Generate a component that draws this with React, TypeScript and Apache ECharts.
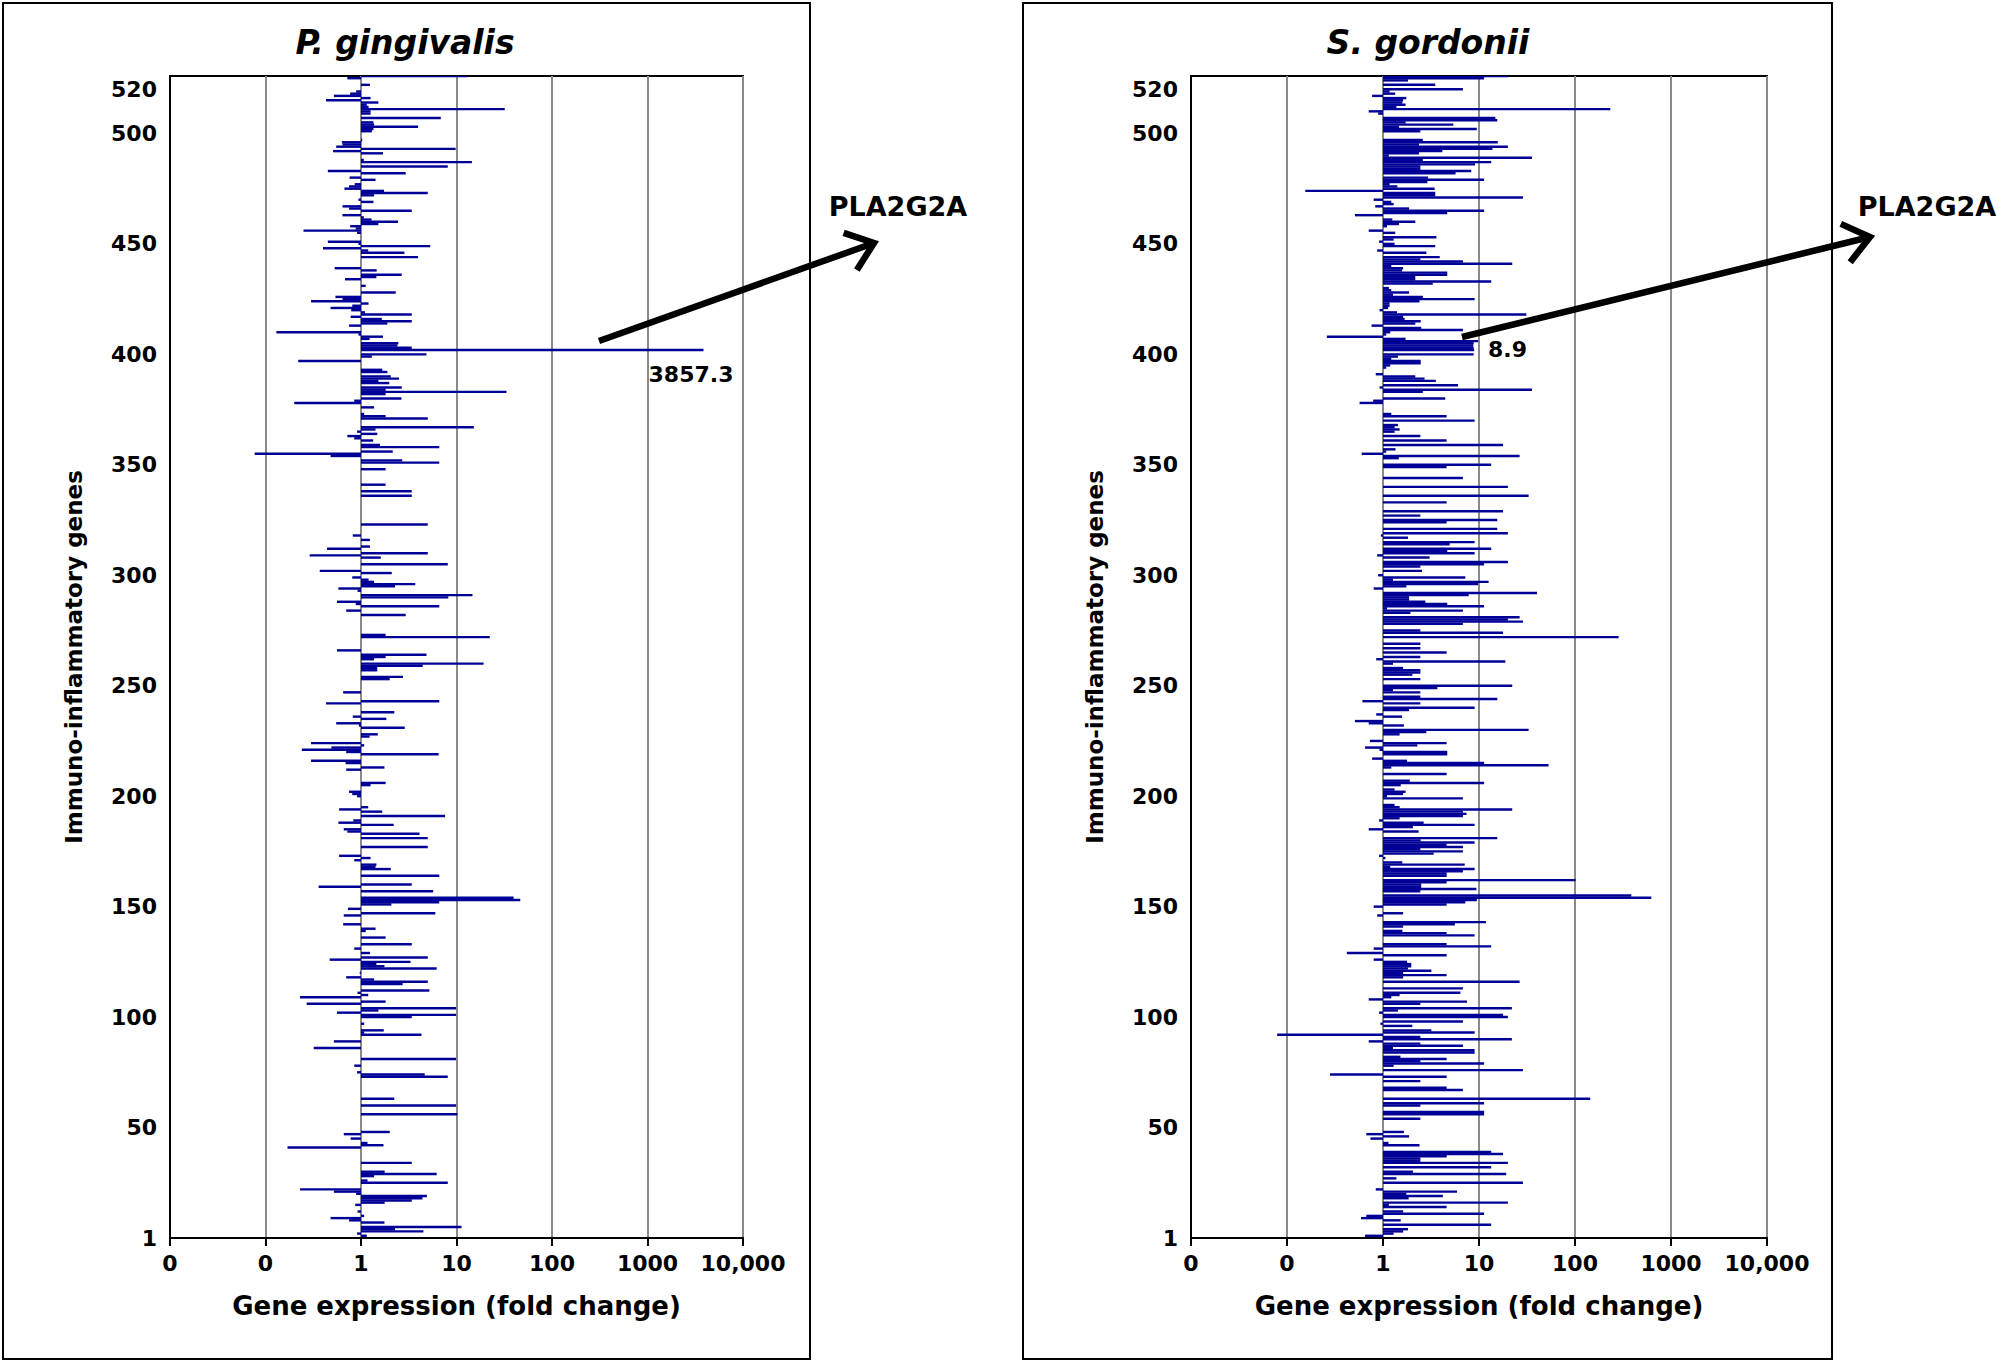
import React, { useEffect, useRef } from "react";
import * as echarts from "echarts";

// ---------- DATA (gene index, fold change); genes not listed show no bar (fold change ~1) ----------
const leftTitle = "P. gingivalis";
const rightTitle = "S. gordonii";
const yTickValues = [0, 50, 100, 150, 200, 250, 300, 350, 400, 450, 500, 520];
const yTickLabels = ["1", "50", "100", "150", "200", "250", "300", "350", "400", "450", "500", "520"];
const xTickValues = [0.01, 0.1, 1, 10, 100, 1000, 10000];
const xTickLabels = ["0", "0", "1", "10", "100", "1000", "10,000"];
const highlightGene = "PLA2G2A";
const highlightLeft = 3857.3;
const highlightRight = 8.9;

const leftBars: [number, number][] = [
  [526, 12.8], [525, 0.72], [522, 1.24], [519, 0.89], [518, 0.77], [517, 0.52], [516, 1.26], [515, 0.43], [514, 1.52], [513, 1.15],
  [512, 1.2], [511, 32], [510, 1.26], [509, 1.26], [507, 6.85], [505, 1.35], [504, 1.37], [503, 3.96], [502, 1.35], [501, 1.3],
  [497, 1.03], [496, 0.63], [495, 0.64], [494, 0.55], [493, 9.8], [492, 0.51], [491, 1.7], [488, 1.07], [487, 14.5], [485, 8.1],
  [483, 0.45], [482, 2.94], [480, 0.76], [479, 1.42], [477, 0.86], [476, 0.75], [475, 0.67], [474, 1.74], [473, 5.0], [472, 1.37],
  [470, 0.94], [469, 1.35], [467, 0.64], [466, 0.75], [465, 3.4], [463, 0.64], [462, 1.07], [461, 1.29], [460, 2.44], [459, 1.52],
  [458, 0.77], [457, 0.88], [456, 0.25], [455, 0.91], [451, 0.45], [450, 0.94], [449, 5.3], [448, 0.4], [447, 1.19], [446, 2.85],
  [444, 3.96], [439, 0.53], [438, 1.46], [436, 2.67], [435, 1.45], [434, 0.68], [431, 1.12], [428, 2.31], [426, 0.54], [425, 0.64],
  [424, 0.3], [423, 1.2], [422, 0.81], [421, 0.48], [420, 0.79], [419, 1.1], [418, 3.4], [417, 0.78], [416, 1.65], [415, 3.4],
  [414, 1.89], [413, 0.75], [410, 0.13], [409, 0.94], [408, 1.7], [407, 1.23], [405, 2.46], [404, 2.4], [403, 3.4], [402, 3857.3],
  [400, 4.85], [399, 1.3], [397, 0.22], [393, 1.67], [392, 1.89], [390, 2.05], [389, 2.5], [388, 1.52], [387, 1.98], [385, 2.67],
  [384, 1.81], [383, 33.4], [382, 1.81], [380, 2.65], [379, 0.85], [378, 0.2], [376, 1.37], [373, 1.08], [372, 1.81], [371, 5.0],
  [367, 15.2], [366, 1.42], [365, 0.91], [364, 1.48], [363, 0.72], [362, 0.85], [361, 1.34], [359, 1.58], [358, 6.6], [356, 2.15],
  [355, 0.077], [354, 0.48], [352, 2.7], [351, 6.6], [348, 1.81], [341, 1.81], [338, 3.4], [336, 3.4], [323, 5.0],
  [318, 0.82], [316, 1.24], [313, 1.24], [312, 0.44], [310, 5.0], [309, 0.29], [308, 1.61], [305, 8.1], [302, 0.37], [301, 2.1],
  [299, 0.81], [298, 1.2], [297, 1.37], [296, 3.7], [295, 2.27], [294, 0.58], [293, 0.92], [291, 14.7], [290, 8.2], [288, 0.56],
  [287, 0.88], [286, 6.6], [284, 0.7], [282, 2.94], [273, 1.81], [272, 22.3], [266, 0.56], [264, 4.85], [263, 1.81], [262, 1.37],
  [260, 19.2], [259, 4.43], [258, 1.48], [257, 1.48], [254, 2.75], [253, 2.0], [247, 0.65], [243, 6.6], [242, 0.43], [238, 2.23],
  [236, 0.82], [235, 1.84], [233, 0.55], [232, 0.95], [231, 2.87], [228, 1.5], [227, 1.23], [224, 0.3], [223, 1.08], [222, 0.49],
  [221, 0.24], [220, 0.7], [219, 6.5], [216, 0.3], [215, 0.69], [213, 1.76], [212, 0.7], [206, 1.81], [205, 1.26], [202, 0.75],
  [201, 0.81], [200, 0.91], [195, 1.19], [194, 0.59], [193, 1.67], [191, 7.6], [189, 0.83], [188, 0.58], [187, 2.2], [185, 0.66],
  [184, 0.72], [183, 4.1], [181, 5.0], [177, 5.0], [173, 0.59], [172, 1.26], [171, 0.85], [169, 1.45], [168, 1.42], [167, 2.05],
  [164, 6.6], [160, 3.4], [159, 0.36], [157, 5.7], [154, 39.6], [153, 46.5], [152, 6.6], [151, 2.08], [149, 0.73], [147, 6.0],
  [146, 0.66], [142, 0.65], [140, 1.42], [139, 1.12], [136, 1.81], [133, 3.4], [131, 0.85], [129, 1.24], [127, 5.0], [126, 0.47],
  [125, 3.3], [124, 1.45], [123, 1.76], [122, 6.2], [120, 0.97], [118, 0.7], [117, 1.37], [116, 5.0], [115, 2.73], [112, 5.2],
  [111, 0.92], [110, 1.19], [109, 0.23], [107, 1.81], [106, 0.27], [104, 9.9], [103, 1.52], [102, 0.56], [101, 9.9], [100, 3.4],
  [97, 1.08], [94, 1.73], [93, 1.08], [92, 4.3], [89, 0.52], [86, 0.32], [81, 9.9], [78, 0.85], [75, 0.91], [74, 4.65],
  [73, 8.1], [63, 2.23], [60, 9.9], [56, 10.2], [48, 2.0], [47, 0.66], [45, 0.78], [43, 1.17], [42, 1.72], [41, 0.17],
  [34, 3.4], [30, 1.77], [29, 6.2], [28, 1.37], [26, 1.17], [25, 8.1], [22, 0.23], [21, 0.52], [20, 0.89], [19, 4.9],
  [18, 4.4], [17, 3.4], [16, 1.77], [15, 0.87], [12, 0.92], [10, 1.08], [9, 0.48], [8, 0.75], [7, 1.76], [5, 11.3],
  [4, 2.27], [3, 4.5], [2, 0.91], [1, 1.15],
];

const rightBars: [number, number][] = [
  [526, 20], [525, 11.3], [524, 1.82], [522, 3.5], [520, 6.8], [519, 1.17], [518, 1.34], [517, 0.77], [516, 1.75], [515, 1.62],
  [514, 1.59], [513, 1.72], [512, 1.38], [511, 233], [510, 0.71], [509, 0.89], [507, 14.8], [506, 15.5], [505, 1.72], [504, 5.4],
  [503, 1.47], [502, 9.5], [501, 2.45], [497, 2.6], [496, 15.7], [495, 2.37], [494, 20], [493, 13.8], [492, 4.15], [491, 2.37],
  [490, 1.15], [489, 35.6], [488, 2.6], [487, 13.4], [486, 9.1], [485, 2.45], [484, 2.45], [483, 8.3], [482, 5.7], [480, 2.94],
  [479, 11.3], [478, 2.9], [477, 1.17], [476, 1.41], [475, 3.45], [474, 0.155], [473, 3.5], [472, 3.5], [471, 28.7], [470, 0.8],
  [469, 1.22], [468, 1.29], [467, 0.83], [466, 1.87], [465, 11.3], [464, 4.67], [463, 0.51], [461, 1.25], [460, 2.17], [459, 1.47],
  [458, 1.1], [456, 0.71], [455, 1.34], [453, 3.6], [452, 1.29], [451, 0.91], [450, 1.32], [449, 3.5], [447, 0.87], [446, 2.83],
  [444, 3.9], [443, 2.45], [442, 6.8], [441, 22.2], [440, 1.22], [439, 1.62], [438, 1.58], [437, 4.67], [436, 4.67], [435, 2.17],
  [434, 2.17], [433, 13.4], [432, 3.3], [430, 1.15], [429, 1.22], [428, 1.87], [427, 1.27], [426, 2.6], [425, 9.0], [424, 2.4],
  [423, 1.17], [422, 1.17], [421, 1.13], [420, 0.92], [419, 1.4], [418, 31.1], [417, 1.62], [416, 1.68], [415, 2.47], [414, 2.17],
  [413, 0.76], [412, 2.5], [411, 6.8], [410, 1.19], [409, 1.08], [408, 0.26], [407, 1.72], [406, 9.8], [405, 8.8], [404, 8.7],
  [403, 8.8], [402, 8.9], [400, 8.8], [399, 1.43], [398, 1.22], [397, 2.47], [396, 2.47], [395, 1.19], [394, 1.08], [391, 0.84],
  [390, 2.17], [389, 2.71], [388, 3.55], [386, 6.05], [385, 0.92], [384, 35.6], [383, 2.6], [380, 4.45], [379, 0.79], [378, 0.57],
  [373, 1.22], [372, 4.6], [370, 9.0], [368, 1.43], [367, 1.32], [366, 1.49], [365, 1.32], [363, 2.45], [361, 4.6], [359, 17.8],
  [357, 1.35], [356, 1.08], [355, 0.6], [354, 26.5], [353, 1.46], [350, 13.4], [349, 4.6], [344, 6.8], [340, 20], [336, 32.9],
  [333, 4.6], [329, 17.8], [327, 2.45], [325, 15.5], [324, 4.6], [321, 15.5], [319, 20], [318, 0.95], [317, 1.82], [315, 9.0],
  [314, 4.95], [312, 13.4], [311, 4.67], [310, 9.0], [309, 0.87], [308, 3.06], [306, 20], [305, 11.3], [304, 2.45], [302, 2.55],
  [300, 0.89], [299, 7.2], [298, 1.27], [297, 12.6], [296, 9.8], [295, 1.75], [294, 0.8], [292, 40.2], [291, 7.8], [290, 1.87],
  [289, 1.87], [288, 2.76], [287, 4.67], [286, 11.3], [285, 1.1], [284, 6.8], [283, 1.93], [281, 26.5], [280, 20], [279, 28.7],
  [278, 6.8], [275, 2.45], [274, 17.8], [272, 285], [269, 2.45], [267, 2.45], [265, 4.6], [263, 2.45], [262, 0.85], [261, 18.8],
  [260, 1.27], [258, 1.62], [257, 2.45], [256, 2.45], [255, 2.02], [253, 2.45], [250, 22.2], [249, 3.68], [248, 1.27], [247, 2.45],
  [245, 2.45], [244, 15.5], [243, 0.61], [242, 2.45], [240, 9.0], [239, 1.87], [237, 0.85], [236, 1.58], [234, 0.51], [233, 0.71],
  [232, 1.65], [230, 32.9], [229, 2.83], [228, 1.49], [225, 0.73], [224, 4.6], [223, 2.28], [222, 0.65], [221, 0.92], [220, 4.67],
  [219, 4.67], [217, 0.77], [216, 1.78], [215, 11.3], [214, 53], [213, 1.22], [210, 4.6], [207, 1.9], [206, 11.3], [205, 1.53],
  [203, 1.32], [202, 1.72], [201, 1.62], [200, 1.1], [199, 6.8], [196, 1.32], [195, 1.49], [194, 22.2], [193, 6.8], [192, 7.4],
  [191, 6.8], [190, 1.49], [189, 0.91], [188, 2.65], [187, 9.0], [186, 2.05], [185, 0.71], [184, 2.35], [181, 15.5], [180, 2.47],
  [179, 9.0], [178, 4.6], [177, 6.8], [176, 2.45], [175, 6.8], [174, 3.37], [173, 0.91], [172, 1.06], [170, 1.59], [169, 7.1],
  [168, 1.19], [167, 9.0], [166, 6.8], [165, 4.6], [164, 4.6], [162, 101.6], [161, 4.6], [160, 2.5], [159, 2.5], [158, 9.4],
  [157, 2.45], [155, 386], [154, 624], [153, 9.5], [152, 7.2], [151, 4.6], [150, 0.8], [147, 1.62], [146, 0.87], [143, 11.8],
  [142, 5.6], [141, 1.62], [139, 1.59], [138, 4.6], [137, 9.0], [133, 4.6], [132, 13.4], [131, 0.8], [129, 0.42], [128, 4.6],
  [126, 0.8], [125, 1.78], [124, 1.97], [123, 1.97], [122, 1.82], [121, 3.19], [120, 1.62], [119, 4.6], [118, 1.62], [116, 26.5],
  [113, 6.8], [111, 6.4], [110, 1.49], [109, 1.22], [108, 0.71], [107, 7.5], [106, 2.45], [104, 22], [103, 1.43], [102, 0.91],
  [101, 17.8], [100, 20], [98, 6.8], [97, 0.94], [96, 2.02], [94, 3.19], [93, 9.0], [92, 0.079], [91, 2.45], [90, 22],
  [89, 0.71], [88, 2.45], [87, 6.8], [86, 1.27], [85, 9.0], [84, 9.0], [82, 1.52], [81, 4.6], [80, 2.45], [79, 11.3],
  [78, 1.29], [76, 28.7], [74, 0.28], [73, 4.6], [71, 2.45], [68, 4.6], [67, 6.8], [63, 144], [61, 11.3], [60, 2.45],
  [57, 11.3], [56, 11.3], [54, 2.45], [48, 1.65], [47, 0.67], [46, 1.87], [45, 0.74], [43, 1.14], [42, 2.4], [39, 13.4],
  [38, 17.8], [37, 4.6], [36, 2.45], [35, 2.45], [34, 20], [32, 13.4], [30, 2.05], [29, 19.2], [27, 1.38], [25, 28.7],
  [22, 0.84], [21, 5.9], [20, 1.75], [19, 4.2], [18, 1.85], [16, 20], [15, 1.15], [14, 4.6], [12, 1.62], [11, 11.3],
  [10, 0.67], [9, 0.59], [8, 1.53], [6, 13.4], [4, 1.82], [3, 1.62], [2, 1.29], [1, 0.65],
];

// ---------- STYLE ----------
const W = 1997;
const H = 1363;
const BAR = "#000096";
const GRID = "#8a8a8a";
const FONT = "DejaVu Sans";

const xLabelFor = (v: number) => {
  const idx = xTickValues.findIndex((t) => Math.abs(Math.log10(t) - Math.log10(v)) < 1e-6);
  return idx >= 0 ? xTickLabels[idx] : "";
};
const yLabelFor = (v: number) => {
  const idx = yTickValues.indexOf(Math.round(v));
  return idx >= 0 ? yTickLabels[idx] : "";
};

const renderBar = (_params: any, api: any) => {
  const v = api.value(0);
  const g = api.value(1);
  const p0 = api.coord([1, g]);
  const p1 = api.coord([v, g]);
  const up = api.coord([1, g + 0.5]);
  const dn = api.coord([1, g - 0.5]);
  const h = Math.abs(dn[1] - up[1]) * 1.1;
  return {
    type: "rect",
    shape: { x: Math.min(p0[0], p1[0]), y: p0[1] - h / 2, width: Math.abs(p1[0] - p0[0]), height: h },
    style: { fill: BAR },
  };
};

const makeX = (gridIndex: number) => ({
  type: "log",
  gridIndex,
  logBase: 10,
  min: 0.01,
  max: 10000,
  splitNumber: 6,
  name: "Gene expression (fold change)",
  nameLocation: "middle",
  nameGap: 55,
  nameTextStyle: { fontFamily: FONT, fontWeight: "bold", fontSize: 26, color: "#000" },
  axisLine: { show: true, lineStyle: { color: "#000", width: 2 } },
  axisTick: { show: true, inside: false, length: 8, lineStyle: { color: "#000", width: 2 } },
  axisLabel: {
    show: true,
    margin: 14,
    fontFamily: FONT,
    fontWeight: "bold",
    fontSize: 22,
    color: "#000",
    formatter: (v: number) => xLabelFor(v),
    showMinLabel: true,
    showMaxLabel: true,
  },
  splitLine: { show: true, lineStyle: { color: GRID, width: 2 } },
});

const makeY = (gridIndex: number) => ({
  type: "value",
  gridIndex,
  min: 0,
  max: 526,
  name: "Immuno-inflammatory genes",
  nameLocation: "middle",
  nameGap: 85,
  nameRotate: 90,
  nameTextStyle: { fontFamily: FONT, fontWeight: "bold", fontSize: 23, color: "#000" },
  axisLine: { show: true, lineStyle: { color: "#000", width: 2 } },
  axisTick: { show: false },
  splitLine: { show: false },
  axisLabel: {
    show: true,
    customValues: yTickValues,
    margin: 13,
    fontFamily: FONT,
    fontWeight: "bold",
    fontSize: 22,
    color: "#000",
    formatter: (v: number) => yLabelFor(v),
  },
});

const arrow = (x1: number, y1: number, x2: number, y2: number) => {
  const ang = Math.atan2(y2 - y1, x2 - x1);
  const len = 32;
  const spread = (38 * Math.PI) / 180;
  const a1 = [x2 - len * Math.cos(ang - spread), y2 - len * Math.sin(ang - spread)];
  const a2 = [x2 - len * Math.cos(ang + spread), y2 - len * Math.sin(ang + spread)];
  return [
    { type: "line", shape: { x1, y1, x2, y2 }, style: { stroke: "#000", lineWidth: 6.5 }, z: 100 },
    {
      type: "polyline",
      shape: { points: [a1, [x2, y2], a2] },
      style: { stroke: "#000", lineWidth: 6.5, fill: null, lineJoin: "miter" },
      z: 100,
    },
  ];
};

const textEl = (text: string, x: number, y: number, size: number, align: string, italic = false) => ({
  type: "text",
  x,
  y,
  z: 100,
  style: {
    text,
    fontFamily: FONT,
    fontWeight: "bold",
    fontStyle: italic ? "italic" : "normal",
    fontSize: size,
    fill: "#000",
    align,
    verticalAlign: "middle",
  },
});

export default function App() {
  const ref = useRef<HTMLDivElement>(null);
  useEffect(() => {
    if (!ref.current) return;
    const chart = echarts.init(ref.current, null, { renderer: "svg", width: W, height: H });
    const option: any = {
      animation: false,
      backgroundColor: "#fff",
      grid: [
        { left: 170, top: 76, width: 573, height: 1162, show: true, borderColor: "#000", borderWidth: 2, backgroundColor: "transparent" },
        { left: 1191, top: 76, width: 576, height: 1162, show: true, borderColor: "#000", borderWidth: 2, backgroundColor: "transparent" },
      ],
      xAxis: [makeX(0), makeX(1)],
      yAxis: [makeY(0), makeY(1)],
      series: [
        {
          type: "custom",
          name: leftTitle,
          xAxisIndex: 0,
          yAxisIndex: 0,
          renderItem: renderBar,
          encode: { x: 0, y: 1 },
          clip: true,
          data: leftBars.map(([g, v]) => [v, g]),
        },
        {
          type: "custom",
          name: rightTitle,
          xAxisIndex: 1,
          yAxisIndex: 1,
          renderItem: renderBar,
          encode: { x: 0, y: 1 },
          clip: true,
          data: rightBars.map(([g, v]) => [v, g]),
        },
      ],
      graphic: [
        { type: "rect", shape: { x: 3, y: 3, width: 807, height: 1356 }, style: { fill: null, stroke: "#000", lineWidth: 2 } },
        { type: "rect", shape: { x: 1023, y: 3, width: 809, height: 1356 }, style: { fill: null, stroke: "#000", lineWidth: 2 } },
        textEl(leftTitle, 405, 42, 33, "center", true),
        textEl(rightTitle, 1428, 42, 33, "center", true),
        ...arrow(599, 341, 874, 243),
        ...arrow(1462, 337, 1870, 237),
        textEl(highlightGene, 898, 206, 27, "center"),
        textEl(highlightGene, 1927, 206, 27, "center"),
        textEl(String(highlightLeft), 691, 374, 22, "center"),
        textEl(String(highlightRight), 1488, 349, 22, "left"),
      ],
    };
    chart.setOption(option);
    return () => chart.dispose();
  }, []);
  return <div ref={ref} style={{ position: "fixed", left: 0, top: 0, width: W, height: H }} />;
}
